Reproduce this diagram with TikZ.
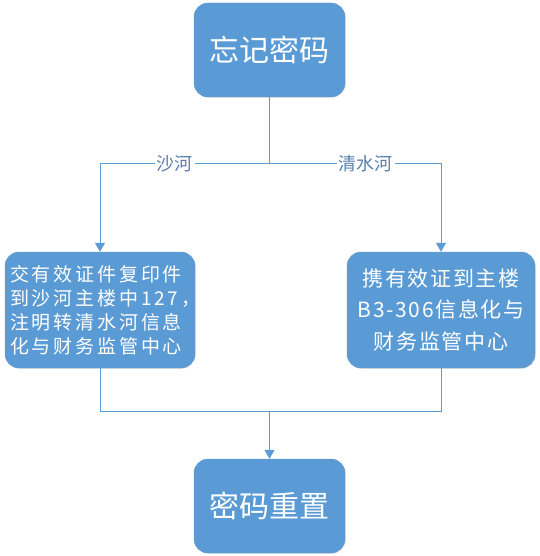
\documentclass[tikz,border=0pt]{standalone}
\usepackage{fontspec}
\newfontfamily\cjk{Noto Sans CJK SC}
\newfontfamily\cjkwide[LetterSpace=15]{Noto Sans CJK SC}
\newfontfamily\cjkmid[LetterSpace=8]{Noto Sans CJK SC}
\usetikzlibrary{arrows.meta,shadows}
\definecolor{boxblue}{HTML}{5B9BD5}
\definecolor{labelblue}{HTML}{5A7FAF}
\tikzset{
  box/.style={rounded corners=14pt, fill=boxblue, draw=boxblue!85!gray, text=white,
    inner sep=0pt, drop shadow={opacity=0.2, shadow xshift=0.8pt, shadow yshift=-0.8pt}},
  link/.style={draw=boxblue, line width=1pt},
  flow/.style={link, -{Triangle[width=10pt,length=9pt]}},
  branch/.style={fill=white, text=labelblue, font=\cjk\fontsize{18}{20}\selectfont, inner sep=2pt},
}
\begin{document}
\begin{tikzpicture}[x=1pt,y=-1pt]
  \useasboundingbox (0,0) rectangle (539,556);
  \node[box, minimum width=151pt, minimum height=94pt, font=\cjk\fontsize{30}{36}\selectfont] (forget) at (269.5,50) {忘记密码};
  \node[box, minimum width=190pt, minimum height=116pt, text width=180pt, align=left,
    font=\cjkwide\fontsize{19}{24}\selectfont] (shahe) at (100,310)
    {交有效证件复印件\\到沙河主楼中127，\\注明转清水河信息\\化与财务监管中心};
  \node[box, minimum width=188pt, minimum height=116pt, align=center,
    font=\cjkmid\fontsize{21}{31.5}\selectfont] (qingshui) at (441,310)
    {携有效证到主楼\\B3-306信息化与\\财务监管中心};
  \node[box, minimum width=151pt, minimum height=94pt, font=\cjk\fontsize{30}{36}\selectfont] (reset) at (269.5,506) {密码重置};
  \coordinate (split) at (269.5,164);
  \coordinate (join) at (269.5,411);
  \draw[link] (forget) -- (split);
  \draw[flow] (split) -| node[branch, pos=0.28] {沙河} (shahe);
  \draw[flow] (split) -| node[branch, pos=0.28] {清水河} (qingshui);
  \draw[link] (shahe) |- (join);
  \draw[link] (qingshui) |- (join);
  \draw[flow] (join) -- (reset);
\end{tikzpicture}
\end{document}
